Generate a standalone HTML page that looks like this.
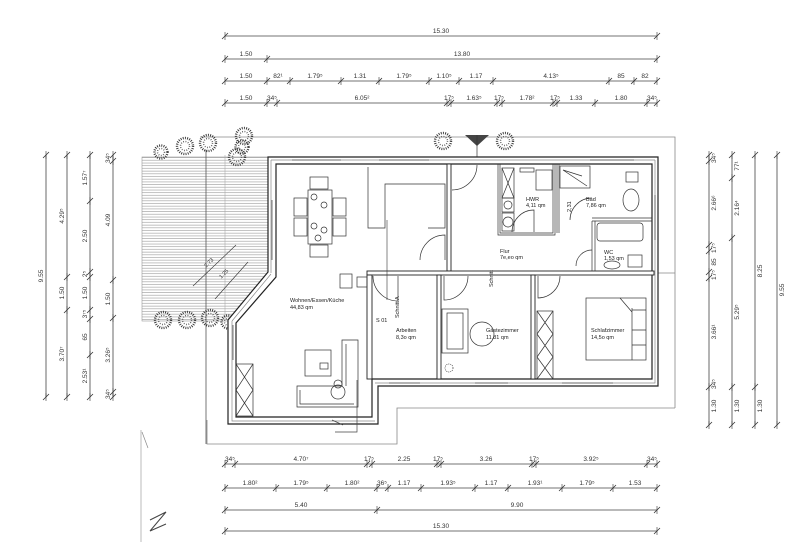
<!DOCTYPE html>
<html><head><meta charset="utf-8"><style>
html,body{margin:0;padding:0;background:#fff;}
svg{display:block;font-family:"Liberation Sans",sans-serif;}
.t{font-size:6.5px;fill:#333;text-anchor:middle}
.f{fill:none;stroke:#333;stroke-width:.7}
.g{fill:none;stroke:#888;stroke-width:.8}
.tree{fill:none;stroke:#333;stroke-width:2.4;stroke-dasharray:.9 1.3}
.tree2{fill:none;stroke:#555;stroke-width:1.5;stroke-dasharray:.8 1.6}
.l{font-size:5.5px;fill:#222}
</style></head><body>
<svg width="800" height="542" viewBox="0 0 800 542" xmlns="http://www.w3.org/2000/svg">
<defs>
<pattern id="h" width="4" height="2.7" patternUnits="userSpaceOnUse"><line x1="0" y1="1" x2="4" y2="1" stroke="#999" stroke-width=".6"/></pattern>
<g id="tk"><line x1="-3" y1="3" x2="3" y2="-3" stroke="#333" stroke-width=".8"/><line x1="0" y1="-4" x2="0" y2="4" stroke="#333" stroke-width=".6"/></g>
<g id="tr"><circle class="tree" r="8"/><circle class="tree2" r="4.5"/></g>
<g id="trs"><circle class="tree" r="6.5"/><circle class="tree2" r="3.5"/></g>
</defs>

<!-- terrace -->
<rect x="142" y="157" width="126" height="164" fill="url(#h)" stroke="#999" stroke-width=".6"/>
<line x1="206" y1="150" x2="206" y2="444" stroke="#555" stroke-width=".8"/>
<line x1="225" y1="155" x2="225" y2="320" stroke="#aaa" stroke-width=".6"/>
<!-- gray site lines -->
<path class="g" d="M200 137 H675 V408"/>
<path class="g" d="M207 420 V444 H397 V408 H675"/>
<line x1="640" y1="273" x2="675" y2="273" stroke="#888" stroke-width=".8"/>
<line x1="141" y1="430" x2="141" y2="542" stroke="#aaa" stroke-width=".8"/>
<!-- trees -->
<use href="#trs" x="161" y="152"/><use href="#tr" x="185" y="146"/><use href="#tr" x="208" y="143"/>
<use href="#tr" x="244" y="136"/><use href="#tr" x="237" y="157"/><use href="#trs" x="242" y="147"/>
<use href="#tr" x="443" y="141"/><use href="#tr" x="505" y="141"/>
<use href="#tr" x="163" y="320"/><use href="#tr" x="187" y="320"/><use href="#tr" x="210" y="318"/><use href="#trs" x="228" y="322"/>
<!-- north arrow -->
<polygon points="465,135 489,135 477,146" fill="#444"/>
<line x1="477" y1="135" x2="477" y2="272" stroke="#333" stroke-width=".7"/>
<!-- terrace dims -->
<g stroke="#333" stroke-width=".6"><line x1="193" y1="286" x2="236" y2="245"/><line x1="215" y1="299" x2="248" y2="262"/></g>
<text class="t" transform="translate(210,264) rotate(-45)" style="font-size:5.5px">2.73</text>
<text class="t" transform="translate(225,275) rotate(-45)" style="font-size:5.5px">1.25</text>

<!-- building outer walls -->
<path d="M268 157 H658 V386 H378 V424 H228 V320 L268 272 Z" fill="#fff" stroke="#222" stroke-width="1.2"/>
<path d="M276 164 H652 V379 H372 V417 H236 V323 L276 277 Z" fill="#fff" stroke="#222" stroke-width="1.2"/>
<path d="M271 160 H655 M271 160 V273 M232 321 L271 274 M232 321 V421 H375 M655 160 V383 H375" fill="none" stroke="#888" stroke-width=".7"/>
<!-- windows -->
<g stroke="#555" stroke-width=".8">
<line x1="292" y1="160" x2="341" y2="160"/><line x1="379" y1="160" x2="429" y2="160"/><line x1="590" y1="160" x2="634" y2="160"/>
<line x1="272" y1="200" x2="272" y2="260"/><line x1="233" y1="325" x2="233" y2="360"/>
<line x1="389" y1="383" x2="420" y2="383"/><line x1="475" y1="383" x2="508" y2="383"/><line x1="562" y1="383" x2="613" y2="383"/>
<line x1="655" y1="195" x2="655" y2="240"/>
</g>
<!-- interior walls -->
<g fill="#fff" stroke="#222" stroke-width=".9">
<rect x="447" y="164" width="4" height="107"/>
<rect x="367" y="271" width="287" height="4"/>
<rect x="367" y="275" width="5" height="104"/>
<rect x="437" y="275" width="4" height="104"/>
<rect x="531" y="275" width="4" height="104"/>
</g>
<g class="f" stroke-width="1">
<path d="M498 164 V235 H555 V164"/><path d="M500 164 V233 H553 V164"/>
<path d="M557 164 V233 M559 164 V233"/>
<path d="M592 218 H652 M592 221 H652 M592 221 V271 M595 221 V271"/>
</g>
<!-- HWR / Bad / WC fixtures -->
<g class="f">
<rect x="502" y="168" width="12" height="30"/><path d="M502 168 L514 198 M514 168 L502 198"/>
<rect x="502" y="198" width="12" height="14"/><circle cx="508" cy="205" r="4"/>
<rect x="502" y="213" width="12" height="18"/><circle cx="508" cy="222" r="5"/>
<rect x="520" y="168" width="14" height="4"/><rect x="536" y="170" width="16" height="20"/>
<rect x="560" y="166" width="30" height="22"/><path d="M563 170 L587 186 M563 170 L582 176"/>
<rect x="597" y="223" width="46" height="18" rx="3"/>
<ellipse cx="631" cy="200" rx="8" ry="11"/><rect x="626" y="172" width="12" height="10"/>
<rect x="628" y="255" width="14" height="12"/><ellipse cx="612" cy="265" rx="8" ry="4"/>
<path d="M512 232 A22 22 0 0 1 534 210 V232"/><path d="M570 220 A22 22 0 0 1 592 198"/>
<path d="M576 266 A16 16 0 0 1 592 250"/>
<path d="M452 190 A25 25 0 0 0 477 165"/><path d="M420 260 A25 25 0 0 1 445 235 V260"/>
<path d="M373 276 A25 25 0 0 0 398 301 V276"/><path d="M444 276 V300 A24 24 0 0 0 468 276"/>
<path d="M538 276 V298 A22 22 0 0 0 560 276"/>
</g>
<!-- kitchen -->
<path class="f" d="M368 167 V228 H385 V184 H445 V228 H428"/>
<line x1="387" y1="220" x2="387" y2="300" stroke="#333" stroke-width=".6"/>
<rect class="f" x="340" y="274" width="12" height="14"/><rect class="f" x="357" y="277" width="10" height="10"/>
<!-- dining -->
<g class="f">
<rect x="308" y="190" width="24" height="54"/>
<rect x="310" y="177" width="18" height="12"/><rect x="310" y="245" width="18" height="12"/>
<rect x="294" y="198" width="13" height="18"/><rect x="294" y="218" width="13" height="18"/>
<rect x="333" y="198" width="13" height="18"/><rect x="333" y="218" width="13" height="18"/>
<circle cx="314" cy="197" r="3"/><circle cx="324" cy="205" r="3"/><circle cx="314" cy="226" r="3"/><circle cx="324" cy="230" r="3"/><circle cx="318" cy="238" r="3"/>
</g>
<!-- living -->
<g class="f">
<rect x="305" y="350" width="26" height="26"/><rect x="320" y="363" width="8" height="6"/>
<path d="M342 340 H358 V407 H297 V386 H342 Z"/><path d="M346 344 V386 M300 390 V404 H354"/>
<circle cx="338" cy="392" r="7"/><circle cx="338" cy="384" r="4"/>
<rect x="236" y="364" width="17" height="52"/><path d="M236 364 L253 390 M253 364 L236 390 M236 390 L253 416 M253 390 L236 416"/>
</g>
<!-- gäste / schlaf -->
<g class="f">
<rect x="442" y="309" width="26" height="44"/><rect x="447" y="313" width="16" height="36"/>
<circle cx="482" cy="334" r="12"/><circle cx="449" cy="368" r="4" stroke-dasharray="1 1"/>
<rect x="537" y="311" width="16" height="68"/>
<path d="M537 311 L553 334 M553 311 L537 334 M537 334 L553 357 M553 334 L537 357 M537 357 L553 379 M553 357 L537 379"/>
<rect x="586" y="298" width="60" height="62"/><path d="M620 298 L632 312 V308 M632 310 H646 M632 330 H646 M632 345 H646 M632 312 V360"/>
</g>
<!-- section line -->
<path d="M335 432 H357 V380 M343 425 L332 420" fill="none" stroke="#444" stroke-width=".7"/>
<!-- room labels -->
<text class="l" x="290" y="302">Wohnen/Essen/Küche</text><text class="l" x="290" y="309">44,83 qm</text>
<text class="l" x="396" y="332">Arbeiten</text><text class="l" x="396" y="339">8,3o qm</text>
<text class="l" x="486" y="332">Gästezimmer</text><text class="l" x="486" y="339">11,81 qm</text>
<text class="l" x="591" y="332">Schlafzimmer</text><text class="l" x="591" y="339">14,5o qm</text>
<text class="l" x="526" y="201">HWR</text><text class="l" x="526" y="207">4,11 qm</text>
<text class="l" x="586" y="201">Bad</text><text class="l" x="586" y="207">7,86 qm</text>
<text class="l" x="500" y="253">Flur</text><text class="l" x="500" y="259">7e,eo qm</text>
<text class="l" x="604" y="254">WC</text><text class="l" x="604" y="260">1,53 qm</text>
<text class="l" x="376" y="322" fill="#888">S 01</text>
<text class="l" transform="translate(399,318) rotate(-90)">Schnitt A</text>
<text class="l" transform="translate(493,287) rotate(-90)">Schnitt</text>
<text class="l" transform="translate(571,212) rotate(-90)">2,31</text>

<!-- DIMENSIONS -->
<g stroke="#444" stroke-width=".8">
<line x1="225" y1="36" x2="657" y2="36"/><line x1="225" y1="59" x2="657" y2="59"/><line x1="225" y1="81" x2="657" y2="81"/><line x1="225" y1="103" x2="657" y2="103"/>
<line x1="225" y1="464" x2="657" y2="464"/><line x1="225" y1="488" x2="657" y2="488"/><line x1="225" y1="510" x2="657" y2="510"/><line x1="225" y1="531" x2="657" y2="531"/>
<line x1="46" y1="155" x2="46" y2="397"/><line x1="67" y1="155" x2="67" y2="397"/><line x1="90" y1="155" x2="90" y2="397"/><line x1="113" y1="155" x2="113" y2="397"/>
<line x1="709" y1="155" x2="709" y2="425"/><line x1="732" y1="155" x2="732" y2="425"/><line x1="755" y1="155" x2="755" y2="425"/><line x1="777" y1="155" x2="777" y2="425"/>
</g>
<g>
<use href="#tk" x="225" y="36"/><use href="#tk" x="657" y="36"/>
<use href="#tk" x="225" y="59"/><use href="#tk" x="267" y="59"/><use href="#tk" x="657" y="59"/>
<use href="#tk" x="225" y="81"/><use href="#tk" x="267" y="81"/><use href="#tk" x="290" y="81"/><use href="#tk" x="341" y="81"/><use href="#tk" x="379" y="81"/><use href="#tk" x="429" y="81"/><use href="#tk" x="459" y="81"/><use href="#tk" x="493" y="81"/><use href="#tk" x="609" y="81"/><use href="#tk" x="634" y="81"/><use href="#tk" x="657" y="81"/>
<use href="#tk" x="225" y="103"/><use href="#tk" x="267" y="103"/><use href="#tk" x="277" y="103"/><use href="#tk" x="447" y="103"/><use href="#tk" x="451" y="103"/><use href="#tk" x="497" y="103"/><use href="#tk" x="502" y="103"/><use href="#tk" x="553" y="103"/><use href="#tk" x="557" y="103"/><use href="#tk" x="595" y="103"/><use href="#tk" x="647" y="103"/><use href="#tk" x="657" y="103"/>
<use href="#tk" x="225" y="464"/><use href="#tk" x="235" y="464"/><use href="#tk" x="367" y="464"/><use href="#tk" x="372" y="464"/><use href="#tk" x="437" y="464"/><use href="#tk" x="441" y="464"/><use href="#tk" x="532" y="464"/><use href="#tk" x="536" y="464"/><use href="#tk" x="647" y="464"/><use href="#tk" x="657" y="464"/>
<use href="#tk" x="225" y="488"/><use href="#tk" x="276" y="488"/><use href="#tk" x="327" y="488"/><use href="#tk" x="377" y="488"/><use href="#tk" x="388" y="488"/><use href="#tk" x="421" y="488"/><use href="#tk" x="475" y="488"/><use href="#tk" x="508" y="488"/><use href="#tk" x="562" y="488"/><use href="#tk" x="613" y="488"/><use href="#tk" x="657" y="488"/>
<use href="#tk" x="225" y="510"/><use href="#tk" x="377" y="510"/><use href="#tk" x="657" y="510"/>
<use href="#tk" x="225" y="531"/><use href="#tk" x="657" y="531"/>
<use href="#tk" x="46" y="155"/><use href="#tk" x="46" y="397"/>
<use href="#tk" x="67" y="155"/><use href="#tk" x="67" y="277"/><use href="#tk" x="67" y="310"/><use href="#tk" x="67" y="397"/>
<use href="#tk" x="90" y="155"/><use href="#tk" x="90" y="201"/><use href="#tk" x="90" y="272"/><use href="#tk" x="90" y="277"/><use href="#tk" x="90" y="310"/><use href="#tk" x="90" y="319"/><use href="#tk" x="90" y="355"/><use href="#tk" x="90" y="397"/>
<use href="#tk" x="113" y="155"/><use href="#tk" x="113" y="161"/><use href="#tk" x="113" y="280"/><use href="#tk" x="113" y="318"/><use href="#tk" x="113" y="392"/><use href="#tk" x="113" y="397"/>
<use href="#tk" x="709" y="155"/><use href="#tk" x="709" y="161"/><use href="#tk" x="709" y="245"/><use href="#tk" x="709" y="251"/><use href="#tk" x="709" y="272"/><use href="#tk" x="709" y="278"/><use href="#tk" x="709" y="387"/><use href="#tk" x="709" y="425"/>
<use href="#tk" x="732" y="155"/><use href="#tk" x="732" y="178"/><use href="#tk" x="732" y="238"/><use href="#tk" x="732" y="387"/><use href="#tk" x="732" y="425"/>
<use href="#tk" x="755" y="155"/><use href="#tk" x="755" y="387"/><use href="#tk" x="755" y="425"/>
<use href="#tk" x="777" y="155"/><use href="#tk" x="777" y="425"/>
</g>
<g class="t">
<text x="441" y="33">15.30</text>
<text x="246" y="56">1.50</text><text x="462" y="56">13.80</text>
<text x="246" y="78">1.50</text><text x="278" y="78">82¹</text><text x="315" y="78">1.79⁵</text><text x="360" y="78">1.31</text><text x="404" y="78">1.79⁵</text><text x="444" y="78">1.10⁵</text><text x="476" y="78">1.17</text><text x="551" y="78">4.13⁵</text><text x="621" y="78">85</text><text x="645" y="78">82</text>
<text x="246" y="100">1.50</text><text x="272" y="100">34⁵</text><text x="362" y="100">6.05²</text><text x="449" y="100">17⁵</text><text x="474" y="100">1.63⁵</text><text x="499" y="100">17⁵</text><text x="527" y="100">1.78²</text><text x="555" y="100">17⁵</text><text x="576" y="100">1.33</text><text x="621" y="100">1.80</text><text x="652" y="100">34⁵</text>
<text x="230" y="461">34⁵</text><text x="301" y="461">4.70⁷</text><text x="369" y="461">17⁵</text><text x="404" y="461">2.25</text><text x="438" y="461">17⁵</text><text x="486" y="461">3.26</text><text x="534" y="461">17⁵</text><text x="591" y="461">3.92⁵</text><text x="652" y="461">34⁵</text>
<text x="250" y="485">1.80²</text><text x="301" y="485">1.79⁵</text><text x="352" y="485">1.80²</text><text x="382" y="485">36⁵</text><text x="404" y="485">1.17</text><text x="448" y="485">1.93⁵</text><text x="491" y="485">1.17</text><text x="535" y="485">1.93¹</text><text x="587" y="485">1.79⁵</text><text x="635" y="485">1.53</text>
<text x="301" y="507">5.40</text><text x="517" y="507">9.90</text>
<text x="441" y="528">15.30</text>
<text transform="translate(43,276) rotate(-90)">9.55</text>
<text transform="translate(64,216) rotate(-90)">4.29⁵</text><text transform="translate(64,293) rotate(-90)">1.50</text><text transform="translate(64,354) rotate(-90)">3.70⁷</text>
<text transform="translate(87,178) rotate(-90)">1.57⁷</text><text transform="translate(87,236) rotate(-90)">2.50</text><text transform="translate(87,274) rotate(-90)">2⁵</text><text transform="translate(87,293) rotate(-90)">1.50</text><text transform="translate(87,314) rotate(-90)">3⁷⁵</text><text transform="translate(87,337) rotate(-90)">65</text><text transform="translate(87,376) rotate(-90)">2.53¹</text>
<text transform="translate(110,158) rotate(-90)">34⁵</text><text transform="translate(110,220) rotate(-90)">4.09</text><text transform="translate(110,299) rotate(-90)">1.50</text><text transform="translate(110,355) rotate(-90)">3.26⁵</text><text transform="translate(110,394) rotate(-90)">34⁵</text>
<text transform="translate(716,158) rotate(-90)">34⁵</text><text transform="translate(716,203) rotate(-90)">2.66⁶</text><text transform="translate(716,248) rotate(-90)">17⁵</text><text transform="translate(716,262) rotate(-90)">85</text><text transform="translate(716,275) rotate(-90)">17⁵</text><text transform="translate(716,332) rotate(-90)">3.66¹</text><text transform="translate(716,384) rotate(-90)">34⁵</text><text transform="translate(716,406) rotate(-90)">1.30</text>
<text transform="translate(739,166) rotate(-90)">77¹</text><text transform="translate(739,208) rotate(-90)">2.16⁴</text><text transform="translate(739,312) rotate(-90)">5.29⁵</text><text transform="translate(739,406) rotate(-90)">1.30</text>
<text transform="translate(762,271) rotate(-90)">8.25</text><text transform="translate(762,406) rotate(-90)">1.30</text>
<text transform="translate(784,290) rotate(-90)">9.55</text>
</g>
<!-- N -->
<path d="M150 520 L166 512 L150 531 L166 524" fill="none" stroke="#444" stroke-width="1"/>
<line x1="142" y1="432" x2="148" y2="448" stroke="#888" stroke-width=".7"/>
</svg>
</body></html>
